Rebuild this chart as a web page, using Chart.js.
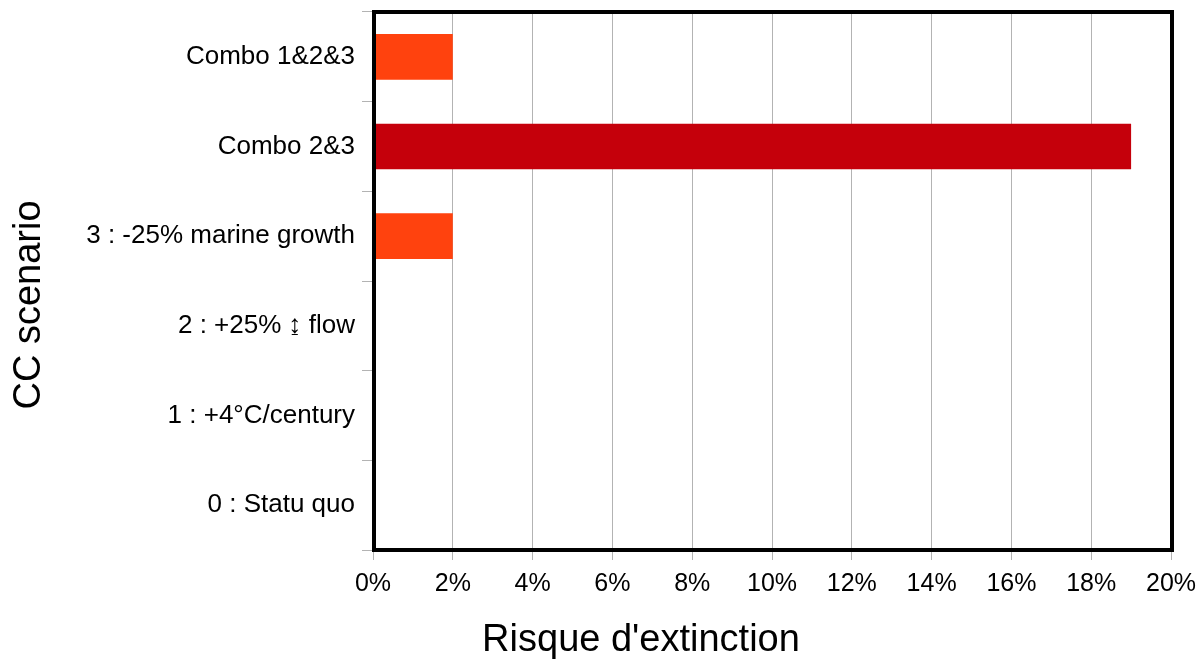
<!DOCTYPE html>
<html>
<head>
<meta charset="utf-8">
<script src="https://cdn.jsdelivr.net/npm/chart.js@4/dist/chart.umd.min.js"></script>
<style>
html, body { margin: 0; padding: 0; background: #fff; }
#wrap { width: 1199px; height: 661px; }
</style>
</head>
<body>
<div id="wrap"><canvas id="graphs"></canvas></div>
<script>
// scenarios, du haut vers le bas
var scenarios = ['Combo 1&2&3', 'Combo 2&3', '3 : -25% marine growth', '2 : +25% \u21A8 flow', '1 : +4°C/century', '0 : Statu quo'];
var risque = [2, 19, 2, 0, 0, 0];
var couleurs = ['#FF420E', '#C5000B', '#FF420E', '#FF420E', '#FF420E', '#FF420E'];
var xMin = 0, xMax = 20, xPas = 2;
var titreX = "Risque d'extinction";
var titreY = 'CC scenario';

// cadre noir epais + titres des axes (places comme dans l'original)
var cadre = {
    id: 'cadre',
    afterDraw: function(chart) {
        var a = chart.chartArea;
        var c = chart.ctx;
        c.save();
        c.strokeStyle = '#000';
        c.lineWidth = 4;
        c.strokeRect(a.left + 1, a.top, a.right - a.left, a.bottom - a.top);

        c.fillStyle = '#000';
        c.font = '38px "Liberation Sans", Arial, sans-serif';
        c.textAlign = 'center';
        c.textBaseline = 'middle';
        c.fillText(titreX, 641, 641);
        c.translate(30, 305);
        c.rotate(-Math.PI / 2);
        c.fillText(titreY, 0, 0);
        c.restore();
    }
};

document.addEventListener('DOMContentLoaded', function() {
    Chart.defaults.font.family = '"Liberation Sans", Arial, sans-serif';
    Chart.defaults.color = '#000';
    var ctx = document.getElementById('graphs').getContext('2d');
    new Chart(ctx, {
        type: 'bar',
        data: {
            labels: scenarios,
            datasets: [{
                data: risque,
                backgroundColor: couleurs,
                barPercentage: 0.51,
                categoryPercentage: 1
            }]
        },
        plugins: [cadre],
        options: {
            indexAxis: 'y',
            responsive: true,
            maintainAspectRatio: false,
            animation: false,
            layout: { padding: { left: 0, right: 28, top: 0, bottom: 0 } },
            plugins: {
                legend: { display: false },
                tooltip: { enabled: false }
            },
            scales: {
                x: {
                    min: xMin,
                    max: xMax,
                    ticks: {
                        stepSize: xPas,
                        font: { size: 25 },
                        padding: 9,
                        callback: function(v) { return v + '%'; }
                    },
                    grid: { color: '#b3b3b3', tickLength: 10, lineWidth: 1 },
                    border: { display: false },
                    afterFit: function(s) { s.height = 111; s.paddingRight = 0; s.paddingLeft = 0; }
                },
                y: {
                    ticks: { font: { size: 26 }, padding: 7 },
                    grid: { drawOnChartArea: false, color: '#b3b3b3', tickLength: 11 },
                    border: { display: false },
                    afterFit: function(s) { s.width = 373; s.paddingTop = 12; }
                }
            }
        }
    });
});
</script>
</body>
</html>
